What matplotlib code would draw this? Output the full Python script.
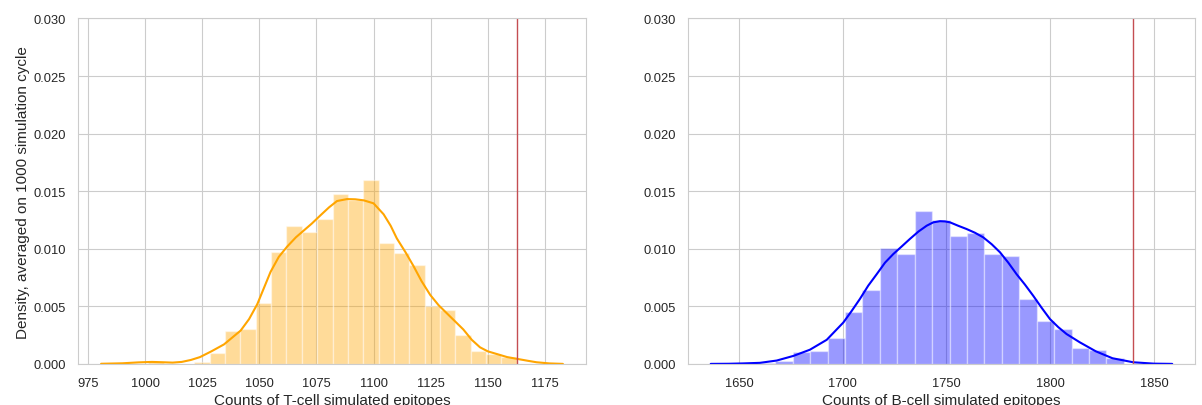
import numpy as np
import matplotlib
matplotlib.use('Agg')
import matplotlib.pyplot as plt
import seaborn as sns

sns.set_style('whitegrid')
plt.rcParams['font.family'] = ['Liberation Sans', 'DejaVu Sans']

# T-cell histogram (density per bin) and kde
t_bin_start, t_bin_width = 1001.4, 6.72
t_density = [0.00015, 0.0, 0.0, 0.00015, 0.00095, 0.0029, 0.0030, 0.0053,
             0.0097, 0.0120, 0.0115, 0.0126, 0.0148, 0.0142, 0.0160, 0.0105,
             0.0096, 0.0086, 0.0050, 0.0047, 0.0025, 0.0011, 0.0009, 0.0006]
t_kde_x = [980.7, 990, 997, 1003, 1008, 1012, 1016, 1020, 1024, 1029, 1034.5,
           1041.8, 1045.5, 1049.1, 1052, 1054.9, 1058.5, 1062.2, 1066,
           1069.5, 1073, 1076.7, 1080.5, 1084, 1088.4, 1092, 1095.7, 1100,
           1104.4, 1107.5, 1110.2, 1114, 1117.5, 1121, 1124.8, 1128.5,
           1132.1, 1135.7, 1139.3, 1143, 1146.6, 1150, 1153.9, 1158.5,
           1163.3, 1167.5, 1171.4, 1177, 1182.9]
t_kde_y = [0.00002, 0.00006, 0.00014, 0.00018, 0.00015, 0.00012, 0.00018,
           0.00035, 0.0006, 0.0011, 0.0017, 0.0029, 0.0039, 0.0052, 0.0066,
           0.0080, 0.0093, 0.0102, 0.0110, 0.0116, 0.0122, 0.0129, 0.0136,
           0.01415, 0.01432, 0.0143, 0.01421, 0.01395, 0.0130, 0.0120,
           0.0109, 0.0097, 0.0085, 0.0072, 0.0060, 0.0051, 0.0044, 0.0037,
           0.0030, 0.0021, 0.00145, 0.0011, 0.00087, 0.0006, 0.00043,
           0.00028, 0.00015, 0.00005, 0.00001]
t_observed = 1163

# B-cell
b_bin_start, b_bin_width = 1659.1, 8.4
b_density = [0.0001, 0.0003, 0.00101, 0.00113, 0.0023, 0.0045, 0.0064,
             0.01005, 0.00955, 0.0133, 0.01253, 0.0111, 0.01138, 0.00955,
             0.00935, 0.00565, 0.0037, 0.0030, 0.00136, 0.0012, 0.0005]
b_kde_x = [1636.4, 1645, 1652, 1660.1, 1668.2, 1676.2, 1684.2, 1692.3,
           1700.3, 1704.3, 1708.3, 1712.3, 1716.4, 1720.4, 1724.4, 1728.4,
           1732.4, 1736.5, 1740.5, 1743.7, 1746.9, 1749.3, 1751.7, 1755.7,
           1759.7, 1763.7, 1767.7, 1771.8, 1775.8, 1779.8, 1783.8, 1787.8,
           1791.8, 1795.8, 1799.9, 1803.9, 1807.9, 1814.3, 1822, 1830, 1840,
           1850, 1858.8]
b_kde_y = [0.00001, 0.00002, 0.00005, 0.0001, 0.0003, 0.0007, 0.00124,
           0.0021, 0.0036, 0.0046, 0.00565, 0.0068, 0.0078, 0.0088, 0.00955,
           0.0102, 0.01086, 0.0115, 0.01201, 0.0123, 0.0124, 0.01238, 0.0123,
           0.0120, 0.01172, 0.0114, 0.0110, 0.0104, 0.0097, 0.0088, 0.0078,
           0.0069, 0.00593, 0.0049, 0.0039, 0.0032, 0.0026, 0.00188, 0.0011,
           0.0005, 0.00015, 0.00003, 0.00001]
b_observed = 1840

panels = [
    (t_bin_start, t_bin_width, t_density, t_kde_x, t_kde_y, t_observed,
     'orange', 'Counts of T-cell simulated epitopes'),
    (b_bin_start, b_bin_width, b_density, b_kde_x, b_kde_y, b_observed,
     'blue', 'Counts of B-cell simulated epitopes'),
]

fig = plt.figure(figsize=(12.02, 4.06), dpi=100)
axes = [fig.add_axes([0.0649, 0.101, 0.4226, 0.851]),
        fig.add_axes([0.5721, 0.101, 0.4223, 0.851])]

for ax, (start, width, dens, kx, ky, obs, col, xlab) in zip(axes, panels):
    lefts = start + width * np.arange(len(dens))
    ax.bar(lefts, dens, width=width, align='edge', color=col, alpha=0.4,
           edgecolor='white', linewidth=1)
    ax.plot(kx, ky, color=col, lw=1.5)
    ax.axvline(obs, color='#C44E52', lw=1)
    ax.set_ylim(0, 0.03)
    ax.set_yticks(np.arange(0, 0.0301, 0.005))
    ax.yaxis.set_major_formatter(plt.FormatStrFormatter('%.3f'))
    ax.tick_params(axis='both', labelsize=9.3, colors='#262626')
    ax.tick_params(axis='x', pad=6)
    ax.tick_params(axis='y', pad=5)
    ax.set_xlabel(xlab, fontsize=11, color='#262626', labelpad=3)
    for s in ax.spines.values():
        s.set_color('#cccccc')

axes[0].set_xticks(np.arange(975, 1176, 25))
axes[1].set_xticks(np.arange(1650, 1851, 50))
axes[0].set_ylabel('Density, averaged on 1000 simulation cycle',
                   fontsize=11, color='#262626', labelpad=3)

fig.savefig('out.png', dpi=100)
